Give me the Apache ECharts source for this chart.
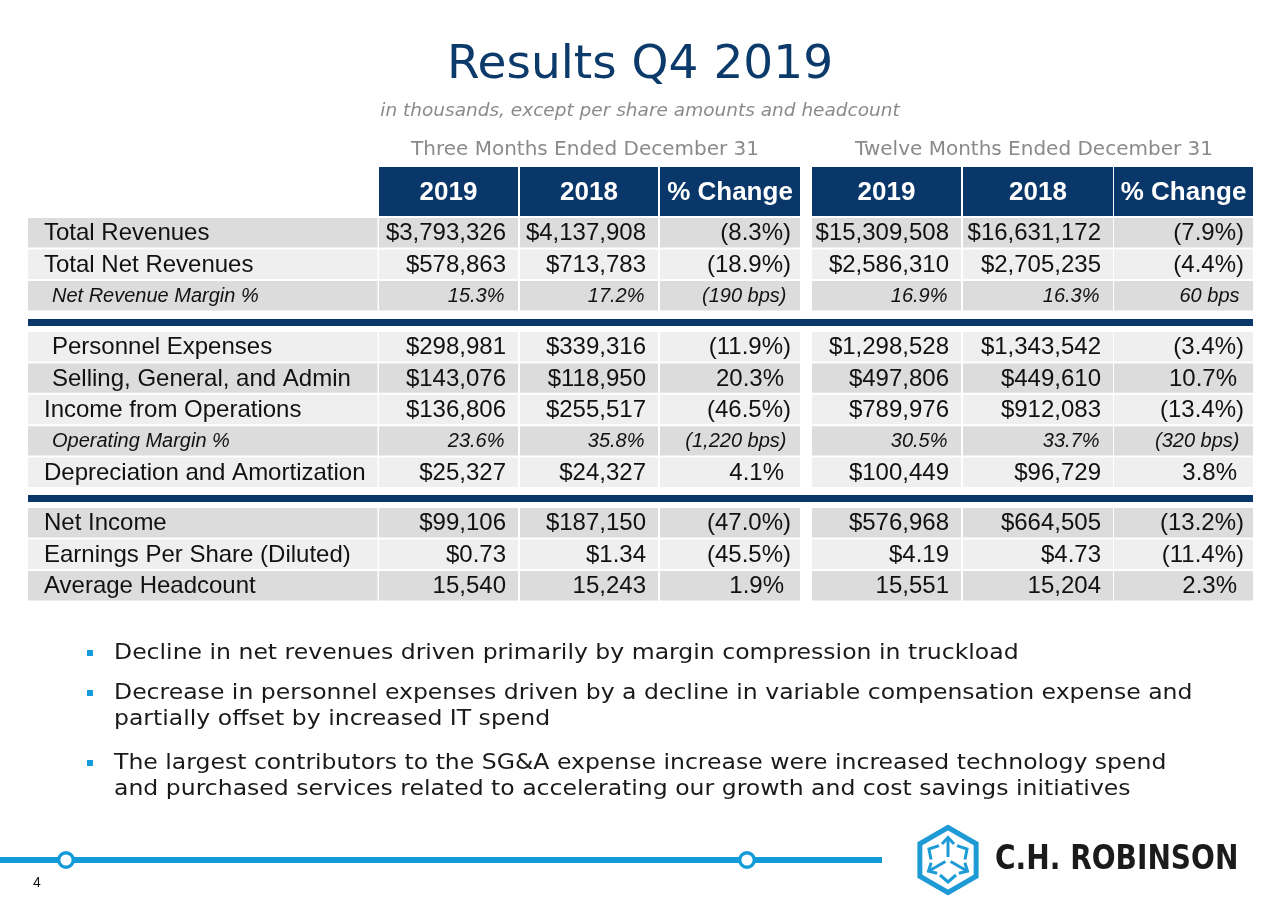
<!DOCTYPE html>
<html><head><meta charset="utf-8">
<script src="https://cdn.jsdelivr.net/npm/echarts@6/dist/echarts.min.js"></script>
<style>html,body{margin:0;padding:0;background:#fff}#c{width:1280px;height:914px}</style>
</head><body><div id="c"></div>
<script>
// ---------------- DATA ----------------
const titleText = 'Results Q4 2019';
const subtitleText = 'in thousands, except per share amounts and headcount';
const periods = ['Three Months Ended December 31', 'Twelve Months Ended December 31'];
const headers = ['2019', '2018', '% Change', '2019', '2018', '% Change'];
const rowLabels = ['Total Revenues', 'Total Net Revenues', 'Net Revenue Margin %',
  'Personnel Expenses', 'Selling, General, and Admin', 'Income from Operations', 'Operating Margin %', 'Depreciation and Amortization',
  'Net Income', 'Earnings Per Share (Diluted)', 'Average Headcount'];
const q2019 = ['$3,793,326', '$578,863', '15.3%', '$298,981', '$143,076', '$136,806', '23.6%', '$25,327', '$99,106', '$0.73', '15,540'];
const q2018 = ['$4,137,908', '$713,783', '17.2%', '$339,316', '$118,950', '$255,517', '35.8%', '$24,327', '$187,150', '$1.34', '15,243'];
const qChange = ['(8.3%)', '(18.9%)', '(190 bps)', '(11.9%)', '20.3%', '(46.5%)', '(1,220 bps)', '4.1%', '(47.0%)', '(45.5%)', '1.9%'];
const y2019 = ['$15,309,508', '$2,586,310', '16.9%', '$1,298,528', '$497,806', '$789,976', '30.5%', '$100,449', '$576,968', '$4.19', '15,551'];
const y2018 = ['$16,631,172', '$2,705,235', '16.3%', '$1,343,542', '$449,610', '$912,083', '33.7%', '$96,729', '$664,505', '$4.73', '15,204'];
const yChange = ['(7.9%)', '(4.4%)', '60 bps', '(3.4%)', '10.7%', '(13.4%)', '(320 bps)', '3.8%', '(13.2%)', '(11.4%)', '2.3%'];
const sectionRows = [[0, 1, 2], [3, 4, 5, 6, 7], [8, 9, 10]];
const bullets = [
  ['Decline in net revenues driven primarily by margin compression in truckload'],
  ['Decrease in personnel expenses driven by a decline in variable compensation expense and', 'partially offset by increased IT spend'],
  ['The largest contributors to the SG&A expense increase were increased technology spend', 'and purchased services related to accelerating our growth and cost savings initiatives']
];
const pageNumber = '4';
const logoText = 'C.H. ROBINSON';

// ---------------- STYLE / LAYOUT ----------------
const NAVY = '#0a3769', DARK = '#dcdcdc', LIGHT = '#efefef', BLUE = '#129bd8';
const TFONT = '"Liberation Sans", Arial, sans-serif';
const VFONT = '"DejaVu Sans", Verdana, sans-serif';
const italicRows = new Set([2, 6]);
const indentRows = new Set([2, 3, 4, 6]);
const sectionShadeStart = [0, 1, 0]; // 0 = dark first
// column edges in axis units (table spans 0..1225)
const colEdges = [[0, 349.5], [351, 490], [492, 630], [632, 772], [784, 933], [935, 1085], [1086, 1225]];
const GL = 28, GW = 1225;
const grids = [
  { top: 167, height: 49 },
  { top: 218, height: 94.5 },
  { top: 332, height: 157 },
  { top: 508, height: 94.5 }
];

const chart = echarts.init(document.getElementById('c'));

function headerSeries() {
  return {
    type: 'custom', xAxisIndex: 0, yAxisIndex: 0,
    data: headers.map((h, i) => [0, 0, i]),
    encode: { x: 0, y: 1 },
    renderItem: (params, api) => {
      const i = api.value(2);
      const c = api.coord([0, 0]);
      const h = api.size([0, 1])[1];
      const top = c[1] - h / 2;
      const [a, b] = colEdges[i + 1];
      const x0 = api.coord([a, 0])[0], x1 = api.coord([b, 0])[0];
      const kids = [
        { type: 'rect', shape: { x: x0, y: top, width: x1 - x0, height: h }, style: { fill: NAVY } },
        { type: 'text', style: { text: headers[i], x: (x0 + x1) / 2, y: top + h / 2 + 1, font: 'bold 26px ' + TFONT, fill: '#fff', align: 'center', verticalAlign: 'middle', textAlign: 'center', textVerticalAlign: 'middle' } }
      ];
      if (i === 1 || i === 4) {
        kids.push({ type: 'text', style: { text: periods[i === 1 ? 0 : 1], x: (x0 + x1) / 2 - 4, y: top - 17, font: '20px ' + VFONT, fill: '#8a8a8a', align: 'center', verticalAlign: 'middle', textAlign: 'center', textVerticalAlign: 'middle' } });
      }
      return { type: 'group', children: kids };
    }
  };
}

function sectionSeries(s) {
  const rows = sectionRows[s];
  return {
    type: 'custom', xAxisIndex: s + 1, yAxisIndex: s + 1,
    data: rows.map((r, p) => [0, p, r]),
    encode: { x: 0, y: 1 },
    renderItem: (params, api) => {
      const p = api.value(1), r = api.value(2);
      const c = api.coord([0, p]);
      const rowH = api.size([0, 1])[1];
      const top = c[1] - rowH / 2;
      const h = rowH - 2;
      const fill = ((p + sectionShadeStart[s]) % 2 === 0) ? DARK : LIGHT;
      const kids = [];
      if (s > 0 && p === 0) {
        const xa = api.coord([0, p])[0], xb = api.coord([GW, p])[0];
        kids.push({ type: 'rect', shape: { x: xa, y: top - 13, width: xb - xa, height: 7 }, style: { fill: NAVY } });
      }
      const xs = colEdges.map(([a, b]) => [api.coord([a, p])[0], api.coord([b, p])[0]]);
      xs.forEach(([x0, x1]) => kids.push({ type: 'rect', shape: { x: x0, y: top, width: x1 - x0, height: h }, style: { fill } }));
      const ital = italicRows.has(r);
      const cy = top + h / 2 + 1;
      kids.push({ type: 'text', style: {
        text: rowLabels[r], x: xs[0][0] + (indentRows.has(r) ? 24 : 16), y: cy,
        font: (ital ? 'italic 20px ' : '24px ') + TFONT, fill: '#111',
        align: 'left', verticalAlign: 'middle', textAlign: 'left', textVerticalAlign: 'middle' } });
      const vals = [q2019[r], q2018[r], qChange[r], y2019[r], y2018[r], yChange[r]];
      vals.forEach((v, i) => {
        const isChg = (i === 2 || i === 5);
        let pad = 12;
        if (ital) pad = 13.5;
        else if (isChg) pad = v.endsWith(')') ? 9 : 16;
        kids.push({ type: 'text', style: {
          text: v, x: xs[i + 1][1] - pad, y: cy,
          font: (ital ? 'italic 20px ' : '24px ') + TFONT, fill: '#111',
          align: 'right', verticalAlign: 'middle', textAlign: 'right', textVerticalAlign: 'middle' } });
      });
      return { type: 'group', children: kids };
    }
  };
}

// graphic decorations: bullets, footer, logo
const graphic = [];
const bulletStartY = [653, 693, 763];
bullets.forEach((lines, bi) => {
  graphic.push({ type: 'rect', shape: { x: 87, y: bulletStartY[bi] - 3, width: 6, height: 6 }, style: { fill: BLUE } });
  lines.forEach((ln, li) => {
    graphic.push({ type: 'text', x: 114, y: bulletStartY[bi] + li * 26, scaleX: 1.07, style: { text: ln, x: 0, y: 0, font: '22px ' + VFONT, fill: '#1a1a1a', textAlign: 'left', textVerticalAlign: 'middle', align: 'left', verticalAlign: 'middle' } });
  });
});
graphic.push({ type: 'rect', shape: { x: 0, y: 857, width: 882, height: 6 }, style: { fill: BLUE } });
[66, 747].forEach(x => graphic.push({ type: 'circle', shape: { cx: x, cy: 860, r: 7.3 }, style: { fill: '#fff', stroke: BLUE, lineWidth: 3.4 } }));
graphic.push({ type: 'text', style: { text: pageNumber, x: 37, y: 883, font: '14px ' + TFONT, fill: '#111', textAlign: 'center', textVerticalAlign: 'middle', align: 'center', verticalAlign: 'middle' } });

// logo hexagon
const LCX = 948, LCY = 860, LR = 32.5, LB = '#1e9bd7';
const hexPts = [];
for (let k = 0; k < 6; k++) { const a = (-90 + 60 * k) * Math.PI / 180; hexPts.push([LCX + LR * Math.cos(a), LCY + LR * Math.sin(a)]); }
graphic.push({ type: 'polygon', shape: { points: hexPts }, style: { fill: 'none', stroke: LB, lineWidth: 5, lineJoin: 'miter' } });
function pt(angle, d, off) {
  const a = angle * Math.PI / 180;
  const px = -Math.sin(a), py = Math.cos(a);
  return [LCX + d * Math.cos(a) + (off || 0) * px, LCY + d * Math.sin(a) + (off || 0) * py];
}
[-90, 150, 30].forEach(ang => {
  graphic.push({ type: 'polyline', shape: { points: [pt(ang, 3), pt(ang, 22)] }, style: { stroke: LB, lineWidth: 3, fill: 'none' } });
  graphic.push({ type: 'polyline', shape: { points: [pt(ang, 16, -6), pt(ang, 22.5), pt(ang, 16, 6)] }, style: { stroke: LB, lineWidth: 3, fill: 'none' } });
});
[-150, -30, 90].forEach(ang => {
  graphic.push({ type: 'polyline', shape: { points: [pt(ang, 15, -8), pt(ang, 22), pt(ang, 15, 8)] }, style: { stroke: LB, lineWidth: 3, fill: 'none' } });
});
graphic.push({ type: 'text', scaleX: 0.85, x: 995, y: 860, style: { text: logoText, x: 0, y: 0, font: 'bold 33px ' + VFONT, fill: '#1b1b1b', textAlign: 'left', textVerticalAlign: 'middle', align: 'left', verticalAlign: 'middle' } });

const option = {
  backgroundColor: '#fff',
  animation: false,
  title: [
    { text: titleText, left: 'center', top: 42, padding: 0, textStyle: { fontFamily: VFONT, fontSize: 47, fontWeight: 'normal', color: '#0b3a6b' } },
    { text: subtitleText, left: 'center', top: 102, padding: 0, textStyle: { fontFamily: VFONT, fontSize: 18.5, fontStyle: 'italic', fontWeight: 'normal', color: '#8a8a8a' } }
  ],
  grid: grids.map(g => ({ left: GL, width: GW, top: g.top, height: g.height })),
  xAxis: grids.map((g, i) => ({ type: 'value', gridIndex: i, min: 0, max: GW, show: false })),
  yAxis: [
    { type: 'category', gridIndex: 0, data: ['header'], inverse: true, show: false },
    ...sectionRows.map((rows, s) => ({ type: 'category', gridIndex: s + 1, data: rows.map(r => rowLabels[r]), inverse: true, show: false }))
  ],
  series: [headerSeries(), ...sectionRows.map((_, s) => sectionSeries(s))],
  graphic
};
chart.setOption(option);
</script>
</body></html>
